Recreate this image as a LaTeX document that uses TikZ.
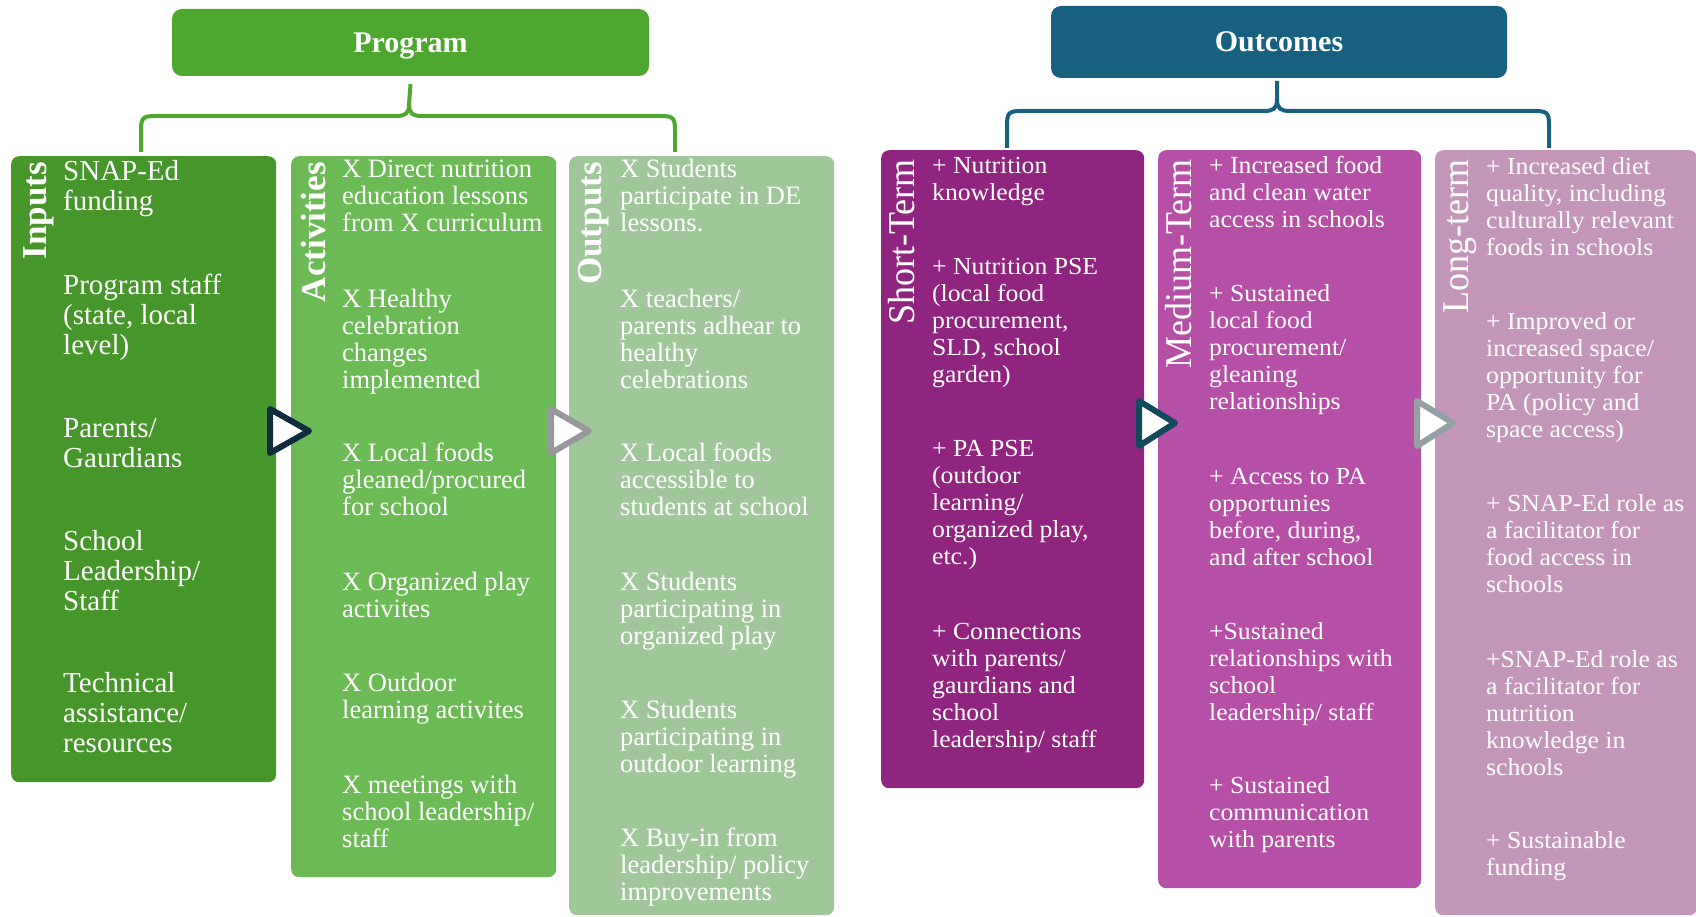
\documentclass[tikz,border=0pt]{standalone}
\usepackage{fontspec}
\setmainfont{Liberation Serif}
\usetikzlibrary{calc}

\definecolor{progGreen}{HTML}{4EA72E}
\definecolor{outBlue}{HTML}{176080}
\definecolor{inGreen}{HTML}{47962B}
\definecolor{actGreen}{HTML}{6BBA55}
\definecolor{outpGreen}{HTML}{A0C79A}
\definecolor{shortPurple}{HTML}{90257F}
\definecolor{medPurple}{HTML}{B64FA6}
\definecolor{longPurple}{HTML}{C396BA}
\definecolor{arrNavy}{HTML}{0F2B3D}
\definecolor{arrGray}{HTML}{97979C}
\definecolor{arrTeal}{HTML}{12495D}
\definecolor{arrSlate}{HTML}{95A0A6}

\begin{document}
% Entries are anchored at the baseline of their last line.
\begin{tikzpicture}[x=1pt,y=-1pt,
  colbox/.style={draw=none, rectangle, rounded corners=8pt, anchor=north west, inner sep=0pt},
  titlebox/.style={rectangle, rounded corners=10pt, inner sep=0pt, text=white,
    font=\fontsize{30}{34}\selectfont\bfseries},
  entry/.style={anchor=base west, align=left, inner sep=0pt, text=white,
    font=\fontsize{26.5}{27}\selectfont},
  bigentry/.style={entry, font=\fontsize{29}{30}\selectfont},
  ocentry/.style={entry, font=\fontsize{24.5}{27}\selectfont, transform shape},
  collabel/.style={rotate=90, anchor=mid east, inner sep=0pt, text=white,
    font=\fontsize{35}{38}\selectfont\bfseries},
  oclabel/.style={collabel, font=\fontsize{36}{38}\selectfont, transform shape},
  brace/.style={line width=4pt, line join=round},
  tri/.style={line width=6pt, fill=white, line join=round}
]
\useasboundingbox (0,0) rectangle (1696,917);

% ---------- headers ----------
\node[titlebox, fill=progGreen, minimum width=477pt, minimum height=67pt] (program) at (410.5,42.5) {\raisebox{-10pt}[0pt][0pt]{Program}};
\node[titlebox, fill=outBlue, minimum width=456pt, minimum height=72pt] (outcomes) at (1279,42) {\raisebox{-10pt}[0pt][0pt]{Outcomes}};

% ---------- columns ----------
\node[colbox, fill=inGreen,     minimum width=265pt, minimum height=626pt] (inputs)     at (11,156) {};
\node[colbox, fill=actGreen,    minimum width=265pt, minimum height=721pt] (activities) at (291,156) {};
\node[colbox, fill=outpGreen,   minimum width=265pt, minimum height=759pt] (outputs)    at (569,156) {};
\node[colbox, fill=shortPurple, minimum width=263pt, minimum height=638pt] (short)      at (881,150) {};
\node[colbox, fill=medPurple,   minimum width=263pt, minimum height=738pt] (medium)     at (1158,150) {};
\node[colbox, fill=longPurple,  minimum width=262pt, minimum height=765pt] (long)       at (1435,150) {};

% ---------- braces ----------
\coordinate (pgL) at (141,152);
\coordinate (pgR) at (675,152);
\coordinate (pgT) at ([yshift=-8pt]program.south);
\draw[brace, draw=progGreen] (pgL) -- (141,130) .. controls (141,118) and (143,116) .. (155,116)
  -- (396,116) .. controls (405,116) and (409,114) .. (409,104) -- (pgT);
\draw[brace, draw=progGreen] (pgR) -- (675,130) .. controls (675,118) and (673,116) .. (661,116)
  -- (422,116) .. controls (413,116) and (409,114) .. (409,104);

\coordinate (ocL) at (1007,148);
\coordinate (ocR) at (1549,148);
\coordinate (ocT) at (1277,81);
\draw[brace, draw=outBlue] (ocL) -- (1007,125) .. controls (1007,113) and (1009,111) .. (1021,111)
  -- (1264,111) .. controls (1273,111) and (1277,109) .. (1277,99) -- (ocT);
\draw[brace, draw=outBlue] (ocR) -- (1549,125) .. controls (1549,113) and (1547,111) .. (1535,111)
  -- (1290,111) .. controls (1281,111) and (1277,109) .. (1277,99);

% ---------- Inputs ----------
\node[collabel] (inLab) at (44,162) {Inputs};
\node[bigentry] (in1) at (63,211) {SNAP-Ed\\funding};
\node[bigentry] (in2) at (63,354) {Program staff\\(state, local\\level)};
\node[bigentry] (in3) at (63,467) {Parents/\\Gaurdians};
\node[bigentry] (in4) at (63,610) {School\\Leadership/\\Staff};
\node[bigentry] (in5) at (63,752) {Technical\\assistance/\\resources};

% ---------- Activities ----------
\node[collabel] (actLab) at (323,162) {Activities};
\node[entry] (ac1) at (342,232) {X Direct nutrition\\education lessons\\from X curriculum};
\node[entry] (ac2) at (342,388) {X Healthy\\celebration\\changes\\implemented};
\node[entry] (ac3) at (342,515) {X Local foods\\gleaned/procured\\for school};
\node[entry] (ac4) at (342,617) {X Organized play\\activites};
\node[entry] (ac5) at (342,718) {X Outdoor\\learning activites};
\node[entry] (ac6) at (342,847) {X meetings with\\school leadership/\\staff};

% ---------- Outputs ----------
\node[collabel] (outLab) at (599,162) {Outputs};
\node[entry] (op1) at (620,232) {X Students\\participate in DE\\lessons.};
\node[entry] (op2) at (620,388) {X teachers/\\parents adhear to\\healthy\\celebrations};
\node[entry] (op3) at (620,515) {X Local foods\\accessible to\\students at school};
\node[entry] (op4) at (620,644) {X Students\\participating in\\organized play};
\node[entry] (op5) at (620,772) {X Students\\participating in\\outdoor learning};
\node[entry] (op6) at (620,900) {X Buy-in from\\leadership/ policy\\improvements};

% ---------- Short-Term ----------
\begin{scope}[shift={(881,0)}, xscale=1.05]
\node[oclabel] (stLab) at (30,159) {Short-Term};
\node[ocentry] (st1) at (48.5,201) {+ Nutrition\\knowledge};
\node[ocentry] (st2) at (48.5,382) {+ Nutrition PSE\\(local food\\procurement,\\SLD, school\\garden)};
\node[ocentry] (st3) at (48.5,564) {+ PA PSE\\(outdoor\\learning/\\organized play,\\etc.)};
\node[ocentry] (st4) at (48.5,747) {+ Connections\\with parents/\\gaurdians and\\school\\leadership/ staff};
\end{scope}

% ---------- Medium-Term ----------
\begin{scope}[shift={(1158,0)}, xscale=1.05]
\node[oclabel] (mtLab) at (30,159) {Medium-Term};
\node[ocentry] (mt1) at (48.5,228) {+ Increased food\\and clean water\\access in schools};
\node[ocentry] (mt2) at (48.5,409) {+ Sustained\\local food\\procurement/\\gleaning\\relationships};
\node[ocentry] (mt3) at (48.5,565) {+ Access to PA\\opportunies\\before, during,\\and after school};
\node[ocentry] (mt4) at (48.5,720) {+Sustained\\relationships with\\school\\leadership/ staff};
\node[ocentry] (mt5) at (48.5,847) {+ Sustained\\communication\\with parents};
\end{scope}

% ---------- Long-term ----------
\begin{scope}[shift={(1435,0)}, xscale=1.05]
\node[oclabel] (ltLab) at (30,159) {Long-term};
\node[ocentry] (lt1) at (48.5,255) {+ Increased diet\\quality, including\\culturally relevant\\foods in schools};
\node[ocentry] (lt2) at (48.5,437) {+ Improved or\\increased space/\\opportunity for\\PA (policy and\\space access)};
\node[ocentry] (lt3) at (48.5,592) {+ SNAP-Ed role as\\a facilitator for\\food access in\\schools};
\node[ocentry] (lt4) at (48.5,775) {+SNAP-Ed role as\\a facilitator for\\nutrition\\knowledge in\\schools};
\node[ocentry] (lt5) at (48.5,875) {+ Sustainable\\funding};
\end{scope}

% ---------- flow triangles ----------
\draw[tri, draw=arrNavy]  (270,409) -- (309,431) -- (270,453) -- cycle;
\draw[tri, draw=arrGray]  (551,409) -- (589,431) -- (551,453) -- cycle;
\draw[tri, draw=arrTeal]  (1139,401) -- (1175,423) -- (1139,446) -- cycle;
\draw[tri, draw=arrSlate] (1417,401) -- (1453,423) -- (1417,446) -- cycle;
\end{tikzpicture}
\end{document}
